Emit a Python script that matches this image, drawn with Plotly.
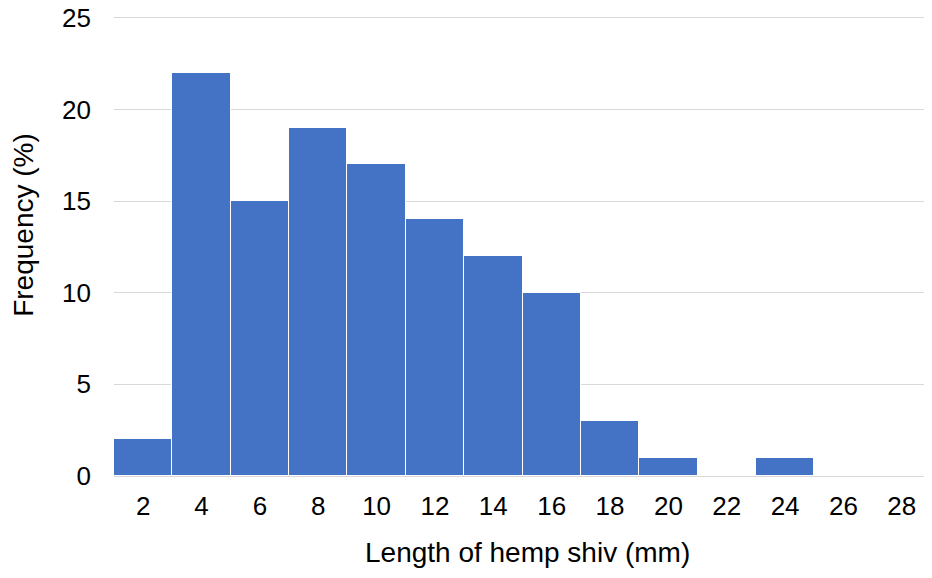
import plotly.graph_objects as go

# shiv length bins (mm) and share of particles (%)
lengths = [2, 4, 6, 8, 10, 12, 14, 16, 18, 20, 22, 24, 26, 28]
freq = [2, 22, 15, 19, 17, 14, 12, 10, 3, 1, 0, 1, 0, 0]
y_ticks = [0, 5, 10, 15, 20, 25]

fig = go.Figure(go.Bar(
    x=[str(v) for v in lengths], y=freq,
    marker=dict(color="#4472C4", line=dict(color="white", width=1)),
))

fig.update_layout(
    width=932, height=578,
    margin=dict(l=106, r=9, t=8, b=110, autoexpand=False),
    plot_bgcolor="white", paper_bgcolor="white",
    bargap=0, showlegend=False,
    font=dict(family="Liberation Sans, Arial", size=26, color="#000000"),
)
fig.update_xaxes(
    type="category", showgrid=False, showline=False, ticks="",
    ticklabelstandoff=12,
)
fig.update_yaxes(
    range=[0, 25.1], tickvals=y_ticks, showgrid=True, gridcolor="#d9d9d9", gridwidth=1,
    zeroline=True, zerolinecolor="#d9d9d9", zerolinewidth=1, showline=False, ticks="",
    ticklabelstandoff=22, ticklabeloverflow="allow",
)

# axis titles placed as annotations to match the original offsets
fig.add_annotation(text="Length of hemp shiv (mm)", xref="paper", yref="paper",
                   x=0.5, y=0, yshift=-76, xshift=5, yanchor="middle",
                   showarrow=False, font=dict(size=28))
fig.add_annotation(text="Frequency (%)", xref="paper", yref="paper",
                   x=0, y=0.546, xshift=-90, xanchor="center", yanchor="middle",
                   textangle=-90, showarrow=False, font=dict(size=28))

fig.write_html("out.html")
